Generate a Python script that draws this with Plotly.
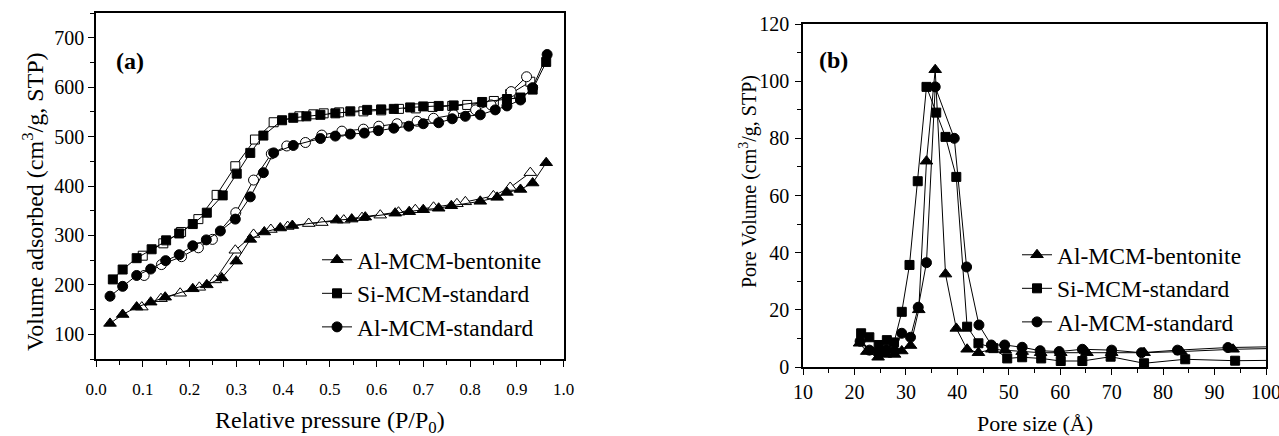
import plotly.graph_objects as go

# ---------------- (a) N2 adsorption-desorption isotherms ----------------
p_ads_bent = [0.03, 0.057, 0.087, 0.117, 0.148, 0.207, 0.237, 0.269, 0.30, 0.33, 0.36, 0.394, 0.42,
              0.515, 0.547, 0.576, 0.64, 0.67, 0.70, 0.733, 0.76, 0.822, 0.858, 0.879, 0.908, 0.934, 0.963]
v_ads_bent = [122, 140, 155, 165, 175, 192, 200, 214, 248, 292, 307, 315, 320,
              331, 333, 337, 345, 348, 352, 355, 360, 369, 377, 387, 393, 406, 447]
p_des_bent = [0.929, 0.886, 0.85, 0.79, 0.772, 0.722, 0.683, 0.647, 0.608, 0.569, 0.53, 0.483, 0.455,
              0.41, 0.374, 0.337, 0.298, 0.255, 0.221, 0.18, 0.139, 0.098]
v_des_bent = [427, 397, 380, 368, 364, 357, 352, 347, 341, 336, 331, 326, 324,
              318, 312, 302, 270, 210, 195, 183, 172, 155]

p_ads_si = [0.036, 0.057, 0.087, 0.119, 0.15, 0.178, 0.207, 0.237, 0.271, 0.301, 0.33, 0.358, 0.398,
            0.422, 0.45, 0.48, 0.512, 0.544, 0.58, 0.61, 0.637, 0.672, 0.70, 0.733, 0.765, 0.826,
            0.879, 0.908, 0.934, 0.963]
v_ads_si = [211, 231, 254, 272, 290, 304, 323, 346, 381, 425, 467, 502, 533,
            538, 541, 544, 547, 551, 554, 555, 556, 559, 561, 562, 563, 570,
            576, 579, 595, 651]
p_des_si = [0.929, 0.886, 0.851, 0.794, 0.762, 0.72, 0.684, 0.648, 0.61, 0.572, 0.52, 0.487, 0.465,
            0.435, 0.38, 0.34, 0.298, 0.258, 0.219, 0.182, 0.144, 0.10]
v_des_si = [611, 586, 572, 564, 562, 560, 557, 556, 553, 551, 549, 547, 545,
            541, 529, 494, 440, 382, 333, 307, 284, 259]

p_ads_al = [0.03, 0.057, 0.087, 0.117, 0.149, 0.178, 0.207, 0.236, 0.266, 0.298, 0.33, 0.358, 0.38,
            0.422, 0.48, 0.512, 0.544, 0.574, 0.604, 0.637, 0.669, 0.70, 0.733, 0.762, 0.79, 0.822,
            0.854, 0.879, 0.908, 0.934, 0.965]
v_ads_al = [177, 197, 219, 232, 249, 261, 279, 291, 309, 333, 378, 427, 467,
            482, 496, 501, 505, 507, 512, 517, 521, 526, 528, 536, 541, 544,
            554, 562, 574, 599, 666]
p_des_al = [0.921, 0.888, 0.845, 0.812, 0.765, 0.722, 0.687, 0.644, 0.605, 0.572, 0.526, 0.483, 0.448,
            0.408, 0.375, 0.337, 0.299, 0.249, 0.219, 0.183, 0.14, 0.103]
v_des_al = [621, 591, 564, 554, 544, 537, 531, 526, 521, 515, 511, 503, 488,
            481, 465, 412, 346, 292, 275, 257, 241, 219]

# ---------------- (b) pore size distribution ----------------
d_bent = [21.0, 22.4, 24.6, 26.0, 27.8, 29.2, 30.9, 32.5, 34.0, 35.7, 37.7, 39.8, 41.9, 44.1,
          46.7, 49.3, 52.6, 56.2, 60.1, 65.2, 70.0, 76.3, 83.5, 93.6, 105]
pv_bent = [8.3, 5.4, 3.4, 4.4, 4.4, 5.6, 7.5, 20, 72, 104, 32.5, 13.5, 6.2, 5.0,
           6.2, 5.9, 5.4, 5.0, 5.0, 5.0, 5.0, 5.0, 5.4, 6.2, 6.6]

d_si = [21.3, 22.9, 24.7, 26.3, 27.7, 29.2, 30.7, 32.3, 34.0, 35.9, 37.7, 39.8, 41.9, 44.1,
        47.0, 49.7, 52.6, 56.3, 60.1, 64.3, 69.8, 76.3, 84.3, 94.0, 105]
pv_si = [11.8, 10.4, 7.7, 9.4, 8.6, 19.3, 35.7, 65, 98, 89, 80.5, 66.5, 14.1, 8.3,
         6.6, 3.0, 3.4, 3.0, 2.1, 2.1, 3.6, 1.3, 2.7, 2.2, 2.4]

d_al = [21.1, 22.9, 24.6, 26.2, 27.8, 29.2, 30.9, 32.4, 34.0, 35.7, 39.4, 41.8, 44.2, 46.6,
        49.2, 52.6, 56.1, 59.8, 64.3, 70.0, 75.8, 82.8, 92.6, 105]
pv_al = [9.0, 5.9, 5.0, 6.0, 5.5, 11.8, 10.4, 20.9, 36.5, 98, 80, 35, 14.7, 7.7,
         7.7, 6.9, 5.7, 5.4, 6.2, 5.9, 5.0, 5.9, 6.8, 7.2]

names = ["Al-MCM-bentonite", "Si-MCM-standard", "Al-MCM-standard"]
symbols = ["triangle-up", "square", "circle"]
sizes = [11, 9, 10]

FONT = "Liberation Serif"
LINE = dict(color="black", width=1)

fig = go.Figure()

isotherms = [
    (p_ads_bent, v_ads_bent, p_des_bent, v_des_bent),
    (p_ads_si, v_ads_si, p_des_si, v_des_si),
    (p_ads_al, v_ads_al, p_des_al, v_des_al),
]
# desorption branches first (open markers), then adsorption (filled)
for (pa, va, pd, vd), sym, sz in zip(isotherms, symbols, sizes):
    fig.add_trace(go.Scatter(
        x=pd, y=vd, mode="lines+markers", line=LINE, showlegend=False,
        marker=dict(symbol=sym, size=sz, color="white", line=dict(color="black", width=1)),
        xaxis="x", yaxis="y"))
for i, ((pa, va, pd, vd), sym, sz) in enumerate(zip(isotherms, symbols, sizes)):
    fig.add_trace(go.Scatter(
        x=pa, y=va, mode="lines+markers", line=LINE, name=names[i],
        legend="legend",
        marker=dict(symbol=sym, size=sz, color="black", line=dict(color="black", width=1)),
        xaxis="x", yaxis="y"))

psd = [(d_bent, pv_bent), (d_si, pv_si), (d_al, pv_al)]
for i, ((d, pv), sym, sz) in enumerate(zip(psd, symbols, sizes)):
    fig.add_trace(go.Scatter(
        x=d, y=pv, mode="lines+markers", line=LINE, name=names[i],
        legend="legend2",
        marker=dict(symbol=sym, size=sz, color="black", line=dict(color="black", width=1)),
        xaxis="x2", yaxis="y2"))

# layout is laid out on a 1279 x 436 pixel canvas
W, H = 1279, 436


def px_x(v):
    return v / W


def px_y(v):
    return 1 - v / H


axis_common = dict(
    showline=True, linecolor="black", linewidth=1.5, mirror=True,
    ticks="outside", ticklen=6, tickwidth=1.2, tickcolor="black",
    showgrid=False, zeroline=False,
)


def label(text, x, y, size, angle=0):
    return dict(text=text, x=px_x(x), y=px_y(y), xref="paper", yref="paper",
                xanchor="center", yanchor="middle", showarrow=False,
                textangle=angle, font=dict(size=size))


fig.update_layout(
    autosize=True,
    margin=dict(l=0, r=0, t=0, b=0, autoexpand=False),
    paper_bgcolor="white", plot_bgcolor="white",
    font=dict(family=FONT, color="black"),
    xaxis=dict(
        domain=[px_x(96), px_x(563.5)], range=[0, 1], dtick=0.1, tick0=0, tickformat=".1f",
        minor=dict(dtick=0.05, ticks="outside", ticklen=4, tickcolor="black"),
        tickfont=dict(size=17), ticklabelstandoff=8, anchor="y", **axis_common),
    yaxis=dict(
        domain=[px_y(359), px_y(13)], range=[50, 750], dtick=100, tick0=100,
        minor=dict(dtick=50, ticks="outside", ticklen=4, tickcolor="black"),
        tickfont=dict(size=20), anchor="x", **axis_common),
    xaxis2=dict(
        domain=[px_x(803), px_x(1266)], range=[10, 100], dtick=10, tick0=10,
        minor=dict(dtick=5, ticks="outside", ticklen=4, tickcolor="black"),
        tickfont=dict(size=20), ticklabeloverflow="allow", anchor="y2", **axis_common),
    yaxis2=dict(
        domain=[px_y(367), px_y(24)], range=[0, 120], dtick=20, tick0=0,
        minor=dict(dtick=10, ticks="outside", ticklen=4, tickcolor="black"),
        tickfont=dict(size=20), ticklabelstandoff=2, anchor="x2", **axis_common),
    legend=dict(
        x=px_x(317), y=px_y(238), xanchor="left", yanchor="top",
        bgcolor="rgba(0,0,0,0)", font=dict(size=23.5, family=FONT),
        tracegroupgap=0, itemwidth=30),
    legend2=dict(
        x=px_x(1017), y=px_y(233), xanchor="left", yanchor="top",
        bgcolor="rgba(0,0,0,0)", font=dict(size=23.5, family=FONT),
        tracegroupgap=0, itemwidth=30),
    annotations=[
        label("<b>(a)</b>", 130, 61, 24),
        label("<b>(b)</b>", 833, 60, 24),
        label("Relative pressure (P/P<sub>0</sub>)", 330, 422, 24),
        label("Volume adsorbed (cm<sup>3</sup>/g, STP)", 33, 202, 24, -90),
        label("Pore size (Å)", 1035, 423, 22),
        label("Pore Volume (cm<sup>3</sup>/g, STP)", 748, 182, 20, -90),
    ],
)

# the figure div is pinned to the top-left corner and fills the whole window
fig.write_html(
    "out.html",
    default_width="100vw",
    default_height="100vh; position:fixed; left:0; top:0",
    post_script="document.body.style.margin='0';",
)
